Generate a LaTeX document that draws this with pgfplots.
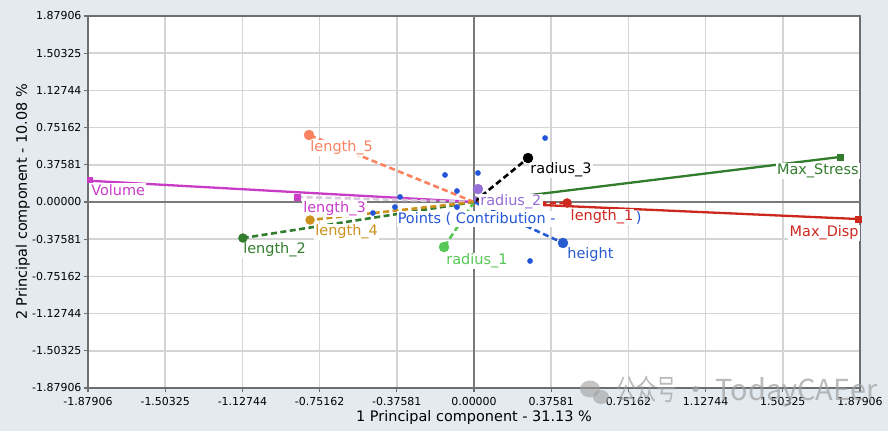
\documentclass[border=0pt]{standalone}
\usepackage{pgfplots}
\pgfplotsset{compat=1.18}
\usepackage{graphicx}
\usepackage{fontspec}
\setmainfont{DejaVu Sans}
\newfontfamily\cjk{Noto Sans CJK SC}
\definecolor{bgc}{RGB}{228,235,240}
\definecolor{gridc}{RGB}{212,212,212}
\definecolor{minorc}{RGB}{130,130,130}
\definecolor{spinec}{RGB}{110,110,110}
\definecolor{zeroc}{RGB}{122,122,122}
\definecolor{volc}{RGB}{200,60,200}
\definecolor{stressc}{RGB}{50,125,45}
\definecolor{dispc}{RGB}{205,40,30}
\definecolor{lfivec}{RGB}{250,130,95}
\definecolor{rtwoc}{RGB}{150,110,215}
\definecolor{ronec}{RGB}{85,200,85}
\definecolor{heightc}{RGB}{40,90,210}
\definecolor{lfourc}{RGB}{205,145,30}
\definecolor{lthreeline}{RGB}{215,200,220}
\definecolor{ptc}{RGB}{35,85,215}
\tikzset{
  vecsolid/.style={line width=2.3bp},
  vecdash/.style={line width=2.6bp, dash pattern=on 6bp off 3.5bp},
  lbl/.style={fill=white, inner sep=1.2bp, anchor=west, font=\fontsize{14.5}{16}\selectfont},
}
\begin{document}
\begin{tikzpicture}[x=1bp,y=1bp]
\fill[bgc] (-88,-43) rectangle (800,388);
\begin{axis}[
  at={(0,0)}, anchor=south west,
  scale only axis, width=772bp, height=372bp,
  xmin=-1.87906, xmax=1.87906, ymin=-1.87906, ymax=1.87906,
  xtick={-1.87906,-1.50325,-1.12744,-0.75162,-0.37581,0,0.37581,0.75162,1.12744,1.50325,1.87906},
  xticklabels={-1.87906,-1.50325,-1.12744,-0.75162,-0.37581,0.00000,0.37581,0.75162,1.12744,1.50325,1.87906},
  ytick={-1.87906,-1.50325,-1.12744,-0.75162,-0.37581,0,0.37581,0.75162,1.12744,1.50325,1.87906},
  yticklabels={-1.87906,-1.50325,-1.12744,-0.75162,-0.37581,0.00000,0.37581,0.75162,1.12744,1.50325,1.87906},
  minor x tick num=1, minor y tick num=1,
  grid=both,
  major grid style={color=gridc, line width=1.6bp},
  minor grid style={color=minorc, line width=0.9bp, dash pattern=on 1bp off 2bp},
  axis line style={color=spinec, line width=1.6bp},
  tick style={color=spinec, line width=1.2bp},
  major tick length=4bp, minor tick length=0bp,
  tick align=outside, xtick pos=bottom, ytick pos=left,
  ticklabel style={font=\fontsize{11}{13}\selectfont, text=black},
  xticklabel style={yshift=-2bp},
  yticklabel style={xshift=1bp},
  xlabel={1 Principal component - 31.13 \%},
  ylabel={2 Principal component - 10.08 \%},
  label style={font=\fontsize{14.5}{17}\selectfont},
  xlabel style={at={(rel axis cs:0.5,0)}, anchor=center, yshift=-30bp},
  ylabel style={at={(rel axis cs:0,0.5)}, anchor=center, rotate=0, yshift=65bp},
  axis background/.style={fill=white},
  clip=true,
]
\draw[zeroc, line width=1.8bp] (axis cs:0,-1.87906) -- (axis cs:0,1.87906);
\draw[zeroc, line width=1.8bp] (axis cs:-1.87906,0) -- (axis cs:1.87906,0);

% loading vectors
\addplot[volc, vecsolid] coordinates {(0,0) (-1.875,0.215)};
\addplot[lthreeline, vecdash] coordinates {(0,0) (-0.862,0.051)};
\addplot[stressc, vecsolid] coordinates {(0,0) (1.782,0.455)};
\addplot[dispc, vecsolid] coordinates {(0,0) (1.870,-0.172)};
\addplot[dispc, vecdash] coordinates {(0,0) (0.453,-0.010)};
\addplot[lfivec, vecdash] coordinates {(0,0) (-0.803,0.677)};
\addplot[black, vecdash] coordinates {(0,0) (0.263,0.444)};
\addplot[rtwoc, vecdash] coordinates {(0,0) (0.019,0.131)};
\addplot[ronec, vecdash] coordinates {(0,0) (-0.146,-0.455)};
\addplot[heightc, vecdash] coordinates {(0,0) (0.433,-0.414)};
\addplot[stressc, vecdash] coordinates {(0,0) (-1.125,-0.364)};
\addplot[lfourc, vecdash] coordinates {(0,0) (-0.798,-0.182)};

% observation points
\addplot[only marks, mark=*, mark size=2.6bp, color=ptc] coordinates {
 (0.346,0.646) (-0.141,0.273) (0.019,0.293) (-0.083,0.111) (-0.360,0.051)
 (-0.083,-0.051) (-0.385,-0.051) (-0.492,-0.111) (0.273,-0.596)};

% end markers
\addplot[only marks, mark=square*, mark size=2.5bp, color=volc] coordinates {(-1.872,0.222)};
\addplot[only marks, mark=square*, mark size=3.2bp, color=volc] coordinates {(-0.862,0.051)};
\addplot[only marks, mark=square*, mark size=3bp, color=stressc] coordinates {(1.782,0.455)};
\addplot[only marks, mark=square*, mark size=3bp, color=dispc] coordinates {(1.870,-0.172)};
\addplot[only marks, mark=*, mark size=4.5bp, color=dispc] coordinates {(0.453,-0.010)};
\addplot[only marks, mark=*, mark size=5bp, color=lfivec] coordinates {(-0.803,0.677)};
\addplot[only marks, mark=*, mark size=5bp, color=black] coordinates {(0.263,0.444)};
\addplot[only marks, mark=*, mark size=5bp, color=rtwoc] coordinates {(0.019,0.131)};
\addplot[only marks, mark=*, mark size=5bp, color=ronec] coordinates {(-0.146,-0.455)};
\addplot[only marks, mark=*, mark size=5bp, color=heightc] coordinates {(0.433,-0.414)};
\addplot[only marks, mark=*, mark size=4.5bp, color=stressc] coordinates {(-1.125,-0.364)};
\addplot[only marks, mark=*, mark size=4.5bp, color=lfourc] coordinates {(-0.798,-0.182)};

% labels
\node[lbl, text=ptc] at (axis cs:-0.378,-0.172) {Points ( Contribution -};
\node[lbl, text=ptc, inner sep=0.5bp] at (axis cs:0.785,-0.162) {)};
\node[lbl, text=volc] at (axis cs:-1.870,0.121) {Volume};
\node[lbl, text=lfivec] at (axis cs:-0.803,0.545) {length\_5};
\node[lbl, text=black] at (axis cs:0.268,0.323) {radius\_3};
\node[lbl, text=rtwoc] at (axis cs:0.024,0.0) {radius\_2};
\node[lbl, text=volc] at (axis cs:-0.838,-0.071) {length\_3};
\node[lbl, text=lfourc] at (axis cs:-0.779,-0.303) {length\_4};
\node[lbl, text=stressc] at (axis cs:-1.130,-0.485) {length\_2};
\node[lbl, text=ronec] at (axis cs:-0.141,-0.596) {radius\_1};
\node[lbl, text=heightc] at (axis cs:0.448,-0.535) {height};
\node[lbl, text=dispc, inner sep=0.8bp] at (axis cs:0.466,-0.152) {length\_1};
\node[lbl, text=stressc, anchor=east] at (axis cs:1.879,0.313) {Max\_Stress};
\node[lbl, text=dispc, anchor=east] at (axis cs:1.879,-0.313) {Max\_Disp};
\end{axis}
\node[anchor=west, inner sep=0pt, text=gray!75, opacity=0.7, font=\cjk\fontsize{29}{31}\selectfont] at (528,-4) {\scalebox{0.7}[1]{公众号}\,·\,TodayCAEer};
\fill[gray!75, opacity=0.6] (502,-1) ellipse (10 and 8.5);
\fill[gray!75, opacity=0.6] (513,-9) ellipse (8 and 7);
\pgfresetboundingbox
\path (-88,-43) rectangle (800,388);
\end{tikzpicture}
\end{document}
